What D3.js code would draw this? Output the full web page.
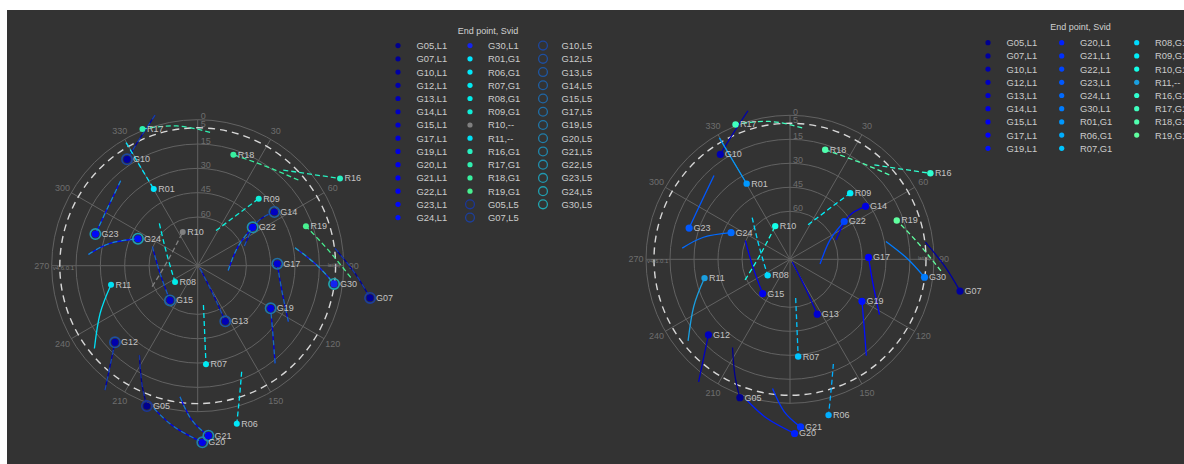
<!DOCTYPE html>
<html><head><meta charset="utf-8">
<script src="https://cdn.jsdelivr.net/npm/d3@7"></script>
<style>
body{margin:0;background:#ffffff;}
svg{display:block;font-family:"Liberation Sans",Arial,Helvetica,sans-serif;}
</style>
</head><body>
<svg id="chart" width="1184" height="464"></svg>
<script>
// ---------------- DATA ----------------
const sats = ["G05","G07","G10","G12","G13","G14","G15","G17","G19","G20","G21","G22","G23","G24","G30",
              "R01","R06","R07","R08","R09","R10","R11","R16","R17","R18","R19"];
// end point (marker) azimuth / elevation, degrees
const endAz = [199.9,100.6,326.4,227.2,153.6,55.0,218.6,88.6,120.3,178.5,176.4,55.1,287.2,294.3,97.6,
               330.2,166.1,175.2,234.3,42.3,336.0,257.6,58.5,338.0,17.8,70.0];
const endEl = [-2.0,-18.1,11.3,20.5,51.7,32.3,62.6,40.9,37.9,-18.9,-15.0,48.7,24.0,49.6,5.2,
               35.5,-10.3,29.0,72.8,34.1,67.3,35.3,-12.9,-0.9,18.1,19.0];
// track start and middle points
const startAz = [213.1,82.8,344.2,216.7,139.6,67.2,292.8,121.7,141.6,197.1,187.7,98.9,317.8,275.9,79.5,
                 329.8,157.5,171.7,317.8,27.6,245.3,231.3,41.8,5.3,49.6,94.4];
const startEl = [24.2,4.7,-6.5,-5.6,87.8,58.8,59.7,24.3,13.2,-2.0,8.5,71.0,19.3,22.3,29.0,
                 2.2,19.2,65.5,54.8,65.6,59.1,8.4,10.9,7.5,8.5,-4.6];
const midAz = [205.4,92.8,335.6,221.0,151.8,53.8,258.5,106.1,132.0,188.3,182.2,64.2,301.5,284.3,89.7,
               329.9,162.3,174.2,291.6,37.6,278.2,243.9,52.7,351.5,34.9,83.2];
const midEl = [9.7,-7.1,3.8,7.5,69.5,44.8,66.3,36.1,27.7,-10.4,-5.2,62.2,24.2,34.2,16.6,
               19.0,5.2,47.0,69.4,50.6,71.1,23.0,-2.2,2.9,15.6,8.9];
// signal names
const leftSig  = ["L1","L1","L1","L1","L1","L1","L1","L1","L1","L1","L1","L1","L1","L1","L1",
                  "G1","G1","G1","G1","G1","--","--","G1","G1","G1","G1"];
const rightSig = ["L1","L1","L1","L1","L1","L1","L1","L1","L1","L1","L1","L1","L1","L1","L1",
                  "G1","G1","G1","G1","G1","G1","--","G1","G1","G1","G1"];
const l5Sats = ["G05","G07","G10","G12","G13","G14","G15","G17","G19","G20","G21","G22","G23","G24","G30"];

const elevTicks = [0,15,30,45,60];
const maskEl = 5;
const spokeAz = [0,30,60,90,120,150,180,210,240,270,300,330];
const azLabels = [30,60,90,120,150,210,240,270,300,330];

// colours
const leftL1Colors = ["#00008e","#000098","#0000a3","#0000ad","#0000b8","#0000c2","#0000cc","#0000d6","#0000e0","#0000ea","#0000f0","#0000f5","#0008fa","#0010ff","#1424f0",
                      "#00e6ff","#00e8fa","#00eaf2","#00ecea","#10eed8","#808080","#00e0f5","#28f0c0","#30f0b0","#38f0a0","#48f090"];
const leftL5Colors = ["#1b3799","#1c3f9c","#1d479e","#1e4fa0","#1e57a2","#1f5fa4","#1f67a6","#206fa8","#2077a9","#207fab","#2087ac","#208fae","#2097af","#209fb0","#20a7b2"];
const rightColors = ["#00008f","#00009f","#0000b0","#0000c0","#0000d0","#0000e0","#0000ef","#0000ff","#0010ff","#0020ff","#0030ff","#0045ff","#0058ff","#006aff","#007cff",
                     "#0098ff","#00aeff","#00c4ff","#00daff","#00eef8","#14ffe8","#1a9fe0","#30ffd0","#40ffbf","#50ffaf","#60ff9f"];

// ---------------- DRAW ----------------
const svg = d3.select("#chart");
svg.append("rect").attr("x",7).attr("y",10).attr("width",1184-7).attr("height",464-10).attr("fill","#333333");

const rad = d => d*Math.PI/180;

function drawPlot(cx, cy, R0, mode){
  const g = svg.append("g");
  const r = d3.scaleLinear().domain([90,0]).range([0,R0]);
  const pos = (az,el) => [cx + r(el)*Math.sin(rad(az)), cy - r(el)*Math.cos(rad(az))];

  g.selectAll("circle.ring").data(elevTicks).enter().append("circle")
    .attr("cx",cx).attr("cy",cy).attr("r",d=>r(d))
    .attr("fill","none").attr("stroke","#626262").attr("stroke-width",1);
  g.selectAll("line.spoke").data(spokeAz).enter().append("line")
    .attr("x1",cx).attr("y1",cy)
    .attr("x2",d=>pos(d,0)[0]).attr("y2",d=>pos(d,0)[1])
    .attr("stroke","#626262").attr("stroke-width",1);
  g.append("circle").attr("cx",cx).attr("cy",cy).attr("r",r(maskEl))
    .attr("fill","none").attr("stroke","#d8d8d8").attr("stroke-width",1.4).attr("stroke-dasharray","7,5");
  g.selectAll("text.el").data(elevTicks).enter().append("text")
    .attr("x",cx+3).attr("y",d=>cy-r(d)-0.5)
    .attr("font-size",9).attr("fill","#6e6e6e").text(d=>d);
  g.append("text").attr("x",cx+3).attr("y",cy-r(maskEl)-0.5)
    .attr("font-size",9).attr("fill","#6e6e6e").text(maskEl);
  g.selectAll("text.az").data(azLabels).enter().append("text")
    .attr("x",d=>cx + (R0+10)*Math.sin(rad(d)))
    .attr("y",d=>cy - (R0+10)*Math.cos(rad(d)))
    .attr("text-anchor","middle").attr("dominant-baseline","central")
    .attr("font-size",9).attr("fill","#6e6e6e").text(d=>d);
  g.append("text").attr("x",cx-R0+1).attr("y",cy+4).attr("font-size",6).attr("fill","#7a7a7a").text("v4.6.0.1");
  g.append("text").attr("x",cx+R0-16).attr("y",cy+1).attr("font-size",5).attr("fill","#7a7a7a").text("lat(dl)");

  const line = d3.line().curve(d3.curveNatural);
  const trackPts = i => [pos(startAz[i],startEl[i]), pos(midAz[i],midEl[i]), pos(endAz[i],endEl[i])];

  sats.forEach((s,i)=>{
    const isG = s[0]==="G";
    const col = mode==="left" ? leftL1Colors[i] : rightColors[i];
    const solid = isG || s==="R11" || (mode==="right" && s==="R01");
    g.append("path").attr("d",line(trackPts(i))).attr("fill","none")
      .attr("stroke",col).attr("stroke-width",1.3)
      .attr("stroke-dasharray", solid ? null : "5,3");
    if(mode==="left" && isG){
      const j = l5Sats.indexOf(s);
      g.append("path").attr("d",line(trackPts(i))).attr("fill","none")
        .attr("stroke",leftL5Colors[j]).attr("stroke-width",1.2).attr("stroke-dasharray","5,4");
    }
  });

  sats.forEach((s,i)=>{
    const [x,y] = pos(endAz[i],endEl[i]);
    const isG = s[0]==="G";
    if(mode==="left"){
      if(isG){
        const j = l5Sats.indexOf(s);
        g.append("circle").attr("cx",x).attr("cy",y).attr("r",5.2)
          .attr("fill","none").attr("stroke",leftL5Colors[j]).attr("stroke-width",1.6);
        g.append("circle").attr("cx",x).attr("cy",y).attr("r",3.6).attr("fill",leftL1Colors[i]);
      } else {
        g.append("circle").attr("cx",x).attr("cy",y).attr("r",3).attr("fill",leftL1Colors[i]);
      }
    } else {
      g.append("circle").attr("cx",x).attr("cy",y).attr("r",isG?3.6:3.2).attr("fill",rightColors[i]);
    }
  });
  sats.forEach((s,i)=>{
    const [x,y] = pos(endAz[i],endEl[i]);
    const isG = s[0]==="G";
    g.append("text").attr("x",x+(mode==="left"&&isG?6:4.5)).attr("y",y)
      .attr("dominant-baseline","central").attr("font-size",9).attr("fill","#c4c4c4").text(s);
  });
}

drawPlot(197.7, 265.7, 146, "left");
drawPlot(790, 259.3, 144, "right");

// ---------------- LEGENDS ----------------
function legend(title, tx, ty, entries, colX, textX, y0, dy, perCol){
  const g = svg.append("g");
  g.append("text").attr("x",tx).attr("y",ty).attr("text-anchor","middle").attr("dominant-baseline","central")
    .attr("font-size",9).attr("fill","#d0d0d0").text(title);
  entries.forEach((e,i)=>{
    const c = Math.floor(i/perCol), rr = i%perCol;
    const y = y0 + rr*dy;
    if(e.ring){
      g.append("circle").attr("cx",colX[c]).attr("cy",y).attr("r",4.4)
        .attr("fill","none").attr("stroke",e.color).attr("stroke-width",1.3);
    } else {
      g.append("circle").attr("cx",colX[c]).attr("cy",y).attr("r",2.6).attr("fill",e.color);
    }
    g.append("text").attr("x",textX[c]).attr("y",y).attr("dominant-baseline","central")
      .attr("font-size",9.4).attr("fill","#cccccc").text(e.label);
  });
}
const leftEntries = sats.map((s,i)=>({label:s+","+leftSig[i], color:leftL1Colors[i], ring:false}))
  .concat(l5Sats.map((s,j)=>({label:s+",L5", color:leftL5Colors[j], ring:true})));
legend("End point, Svid", 488, 31, leftEntries, [398,470,543], [416.5,488,561.5], 45.6, 13.23, 14);

const rightEntries = sats.map((s,i)=>({label:s+","+rightSig[i], color:rightColors[i], ring:false}));
legend("End point, Svid", 1080.5, 26.5, rightEntries, [988,1061.7,1136.7], [1006.5,1080,1155], 42.7, 13.2, 9);
</script>
</body></html>
